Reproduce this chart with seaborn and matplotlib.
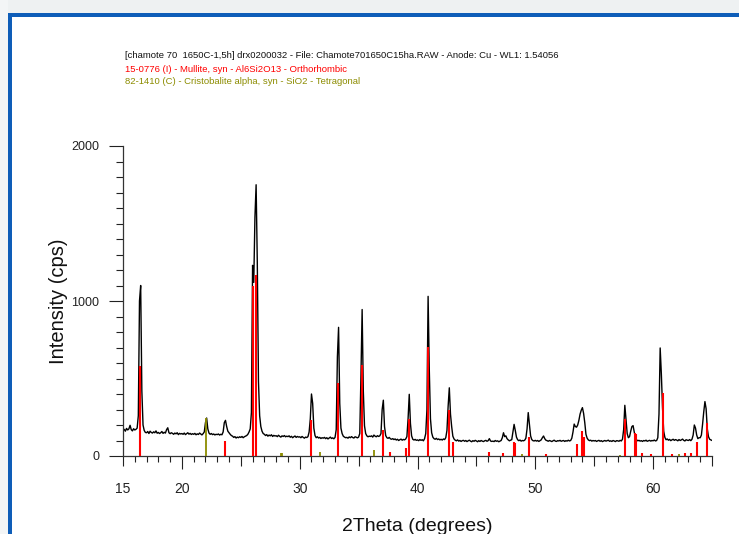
import numpy as np
import pandas as pd
import seaborn as sns
import matplotlib.pyplot as plt
from matplotlib.patches import Rectangle
from matplotlib.ticker import FixedLocator, MultipleLocator

# scan settings (step scan, 0.1 deg)
scan_start = 15.0
scan_step = 0.1

# measured counts, one row per degree: x.0 ... x.9
counts = [
    165, 172, 160, 178, 168, 175, 198, 170, 162, 176,   # 15
    168, 172, 180, 260, 1000, 1100, 420, 200, 165, 152, # 16
    150, 158, 145, 160, 152, 148, 156, 150, 162, 147,   # 17
    152, 145, 150, 158, 146, 153, 148, 170, 182, 150,   # 18
    144, 150, 146, 140, 148, 143, 150, 138, 146, 142,   # 19
    145, 140, 148, 138, 144, 150, 141, 146, 139, 144,   # 20
    140, 146, 137, 143, 139, 148, 142, 136, 144, 155,   # 21
    215, 245, 175, 148, 140, 145, 138, 142, 136, 140,   # 22
    138, 142, 135, 140, 137, 155, 215, 230, 190, 160,   # 23
    150, 140, 132, 128, 120, 125, 116, 122, 118, 124,   # 24
    120, 126, 118, 124, 128, 132, 140, 155, 175, 280,   # 25
    1230, 1120, 1540, 1750, 1250, 480, 260, 190, 160, 145,  # 26
    140, 132, 138, 128, 135, 130, 137, 126, 133, 129,   # 27
    131, 125, 134, 127, 122, 130, 126, 132, 124, 128,   # 28
    125, 130, 121, 127, 118, 124, 129, 120, 126, 122,   # 29
    124, 118, 126, 120, 115, 122, 119, 125, 155, 240,   # 30
    400, 340, 180, 132, 118, 124, 116, 120, 113, 118,   # 31
    115, 120, 112, 118, 110, 116, 122, 113, 117, 111,   # 32
    120, 170, 640, 830, 340, 180, 145, 128, 122, 118,   # 33
    120, 115, 123, 118, 125, 119, 116, 124, 121, 117,   # 34
    122, 145, 520, 945, 420, 195, 145, 130, 124, 128,   # 35
    126, 130, 122, 135, 128, 124, 131, 126, 130, 145,   # 36
    300, 360, 190, 132, 118, 114, 120, 111, 108, 112,   # 37
    106, 110, 103, 108, 100, 105, 109, 102, 107, 104,   # 38
    110, 125, 240, 398, 210, 130, 108, 103, 107, 101,   # 39
    104, 99, 106, 101, 105, 98, 112, 145, 300, 1030,    # 40
    560, 240, 150, 122, 112, 108, 114, 106, 110, 104,   # 41
    108, 103, 110, 106, 118, 165, 320, 440, 270, 190,   # 42
    128, 110, 102, 98, 104, 96, 100, 94, 99, 101,       # 43
    95, 100, 93, 98, 102, 96, 92, 99, 95, 101,          # 44
    97, 92, 99, 94, 100, 96, 93, 98, 101, 95,           # 45
    99, 112, 97, 94, 96, 93, 100, 95, 98, 92,           # 46
    96, 100, 118, 150, 125, 130, 112, 104, 98, 102,     # 47
    105, 155, 204, 165, 122, 105, 99, 103, 96, 100,     # 48
    98, 102, 115, 175, 280, 205, 130, 106, 99, 97,      # 49
    101, 96, 100, 94, 99, 104, 118, 129, 112, 102,      # 50
    99, 95, 100, 97, 93, 98, 102, 96, 94, 99,           # 51
    97, 101, 95, 98, 100, 94, 99, 96, 102, 97,          # 52
    100, 115, 155, 206, 190, 186, 200, 230, 270, 295,   # 53
    312, 275, 215, 140, 115, 104, 99, 102, 96, 100,     # 54
    97, 100, 94, 98, 101, 95, 99, 93, 97, 100,          # 55
    96, 99, 102, 95, 98, 94, 100, 97, 93, 99,           # 56
    98, 95, 101, 97, 108, 170, 327, 235, 145, 118,      # 57
    125, 160, 190, 196, 155, 118, 104, 98, 101, 96,     # 58
    99, 94, 100, 97, 102, 95, 98, 101, 96, 100,         # 59
    98, 103, 97, 100, 118, 270, 697, 530, 310, 160,     # 60
    120, 105, 110, 102, 107, 99, 104, 108, 101, 106,    # 61
    103, 98, 106, 100, 104, 109, 101, 97, 105, 102,     # 62
    100, 106, 99, 108, 135, 200, 180, 135, 112, 118,    # 63
    118, 135, 205, 285, 351, 305, 175, 125, 108, 104,   # 64
    100,                                                # 65
]

# reference patterns (stick positions / intensities)
mullite_2theta = [16.45, 23.65, 26.03, 26.32, 31.0, 33.25, 35.3, 37.07, 37.65, 39.0,
                  39.3, 40.92, 42.65, 43.0, 46.1, 47.3, 48.2, 48.3, 49.5, 50.9,
                  53.55, 54.0, 54.15, 57.65, 58.5, 58.58, 59.1, 59.85, 60.8, 61.6,
                  62.75, 63.2, 63.75, 64.6]
mullite_int = [580, 97, 1100, 1170, 232, 473, 587, 168, 25, 52,
               237, 705, 297, 90, 26, 20, 92, 85, 120, 15,
               75, 163, 120, 237, 146, 140, 20, 15, 404, 15,
               20, 18, 92, 210]

cristobalite_2theta = [22.08, 28.45, 28.5, 31.7, 36.3, 48.9, 57.2, 62.2]
cristobalite_int = [245, 20, 20, 25, 40, 12, 8, 10]

header = [
    ("[chamote 70  1650C-1,5h] drx0200032 - File: Chamote701650C15ha.RAW - Anode: Cu - WL1: 1.54056", "#111111"),
    ("15-0776 (I) - Mullite, syn - Al6Si2O13 - Orthorhombic", "#ff0000"),
    ("82-1410 (C) - Cristobalite alpha, syn - SiO2 - Tetragonal", "#8c8c00"),
]

scan = pd.DataFrame({"two_theta": scan_start + scan_step * np.arange(len(counts)),
                     "cps": counts})

sns.set_theme(style="ticks")
plt.rcParams["font.family"] = ["Liberation Sans", "DejaVu Sans"]

W, H = 739, 534
fig = plt.figure(figsize=(W / 100, H / 100), dpi=100, facecolor="white")

# window frame
fig.add_artist(Rectangle((0, 1 - 13 / H), 1, 13 / H, transform=fig.transFigure,
                         color="#eef1f2", lw=0))
fig.add_artist(Rectangle((0, 0), 8 / W, 1, transform=fig.transFigure,
                         color="#f3f5f6", lw=0))
fig.add_artist(Rectangle((8 / W, 1 - 16.5 / H), 1, 3.5 / H, transform=fig.transFigure,
                         color="#0e5db8", lw=0))
fig.add_artist(Rectangle((8 / W, 0), 3.5 / W, 1 - 13 / H, transform=fig.transFigure,
                         color="#0e5db8", lw=0))

ax = fig.add_axes([123 / W, 78 / H, 589 / W, 310 / H])
ax.set_facecolor("none")

sns.lineplot(data=scan, x="two_theta", y="cps", color="black", lw=1.0,
             estimator=None, ax=ax, zorder=2)
ax.vlines(mullite_2theta, 0, mullite_int, color="#ff0000", lw=1.5, zorder=3)
ax.vlines(cristobalite_2theta, 0, cristobalite_int, color="#8c8c00", lw=1.3, zorder=3)

ax.set_xlim(15, 65)
ax.set_ylim(0, 2000)
sns.despine(ax=ax)
for s in ["left", "bottom"]:
    ax.spines[s].set_color("#333333")
    ax.spines[s].set_linewidth(0.9)

ax.xaxis.set_major_locator(FixedLocator([15, 20, 30, 40, 50, 60]))
minor_x = [v for v in range(16, 66) if v % 10 != 0]
ax.xaxis.set_minor_locator(FixedLocator(minor_x))
ax.yaxis.set_major_locator(MultipleLocator(1000))
ax.yaxis.set_minor_locator(MultipleLocator(100))

ax.tick_params(axis="x", which="major", length=9.4, width=0.8, color="#222222",
               pad=9, labelsize=10, labelcolor="#222222")
ax.tick_params(axis="x", which="minor", length=4.3, width=0.8, color="#222222")
ax.tick_params(axis="y", which="major", length=10, width=0.8, color="#222222",
               pad=7, labelsize=9, labelcolor="#222222")
ax.tick_params(axis="y", which="minor", length=5, width=0.8, color="#222222")

# medium ticks at 15, 25, 35, ...
ax.xaxis.get_major_ticks()[0].tick1line.set_markersize(7.2)
for t, v in zip(ax.xaxis.get_minor_ticks(len(minor_x)), minor_x):
    if v % 5 == 0:
        t.tick1line.set_markersize(7.2)

ax.set_xlabel("2Theta (degrees)", fontsize=14, color="#111111")
ax.xaxis.label.set_va("baseline")
ax.xaxis.set_label_coords(0.5, -0.242)
ax.set_ylabel("Intensity (cps)", fontsize=14.5, color="#111111")
ax.yaxis.label.set_va("center")
ax.yaxis.set_label_coords(-0.11, 0.5)

for i, (txt, col) in enumerate(header):
    fig.text(125 / W, 1 - (56 + 13 * i) / H, txt, color=col, fontsize=6.8,
             ha="left", va="center")

fig.savefig("out.png", dpi=100, facecolor=fig.get_facecolor())
